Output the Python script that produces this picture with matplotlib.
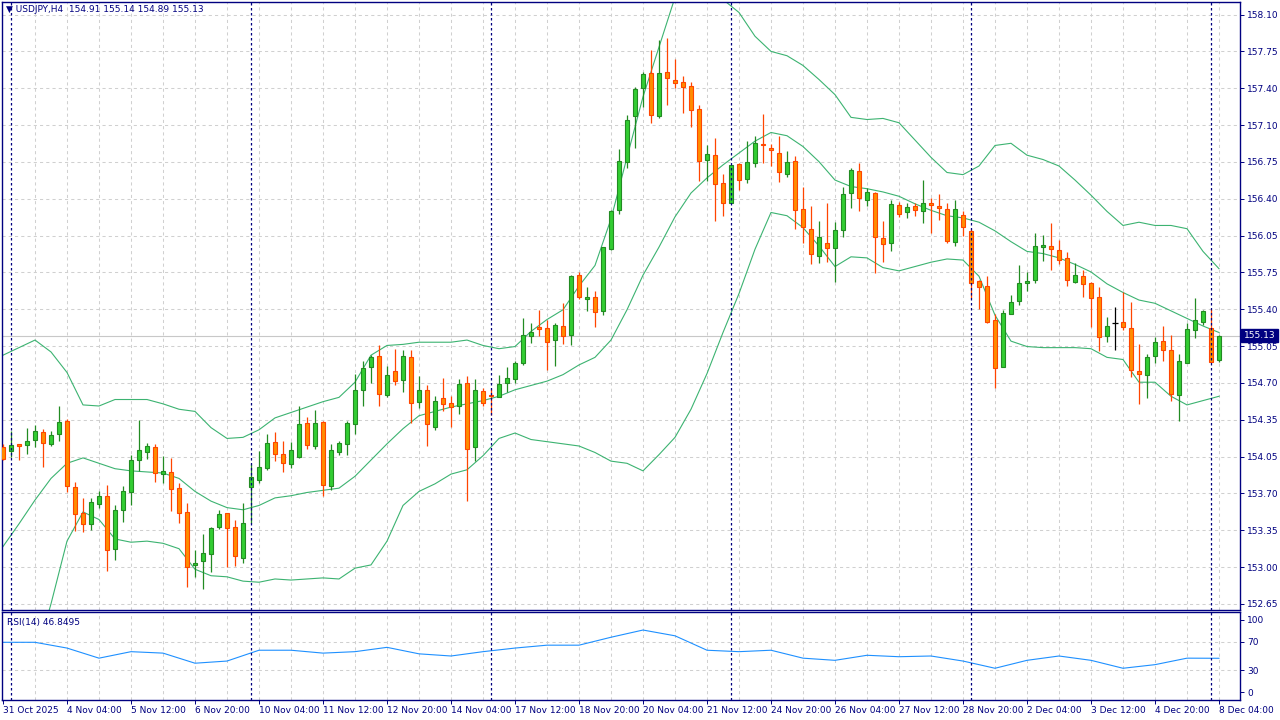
import numpy as np
import matplotlib.pyplot as plt

# USDJPY H4 candles; first bar is 31 Oct 20:00, bar 0 is 3 Nov 00:00
opens = [154.10, 154.06, 154.13, 154.12, 154.17, 154.24, 154.13, 154.22, 154.34, 153.73,
         153.49, 153.39, 153.57, 153.65, 153.16, 153.52, 153.68, 153.98, 154.05, 154.10,
         153.85, 153.87, 153.72, 153.50, 153.01, 153.05, 153.11, 153.36, 153.49, 153.36,
         153.07, 153.73, 153.80, 153.91, 154.15, 154.04, 153.94, 154.01, 154.32, 154.11,
         154.33, 153.74, 154.05, 154.13, 154.31, 154.63, 154.84, 154.94, 154.58, 154.80,
         154.72, 154.93, 154.52, 154.63, 154.29, 154.55, 154.51, 154.48, 154.69, 154.10,
         154.62, 154.58, 154.56, 154.69, 154.73, 154.88, 155.13, 155.21, 155.20, 155.09,
         155.22, 155.14, 155.69, 155.47, 155.49, 155.36, 155.93, 156.29, 156.74, 157.16,
         157.42, 157.56, 157.16, 157.57, 157.50, 157.48, 157.44, 157.23, 156.76, 156.80,
         156.54, 156.36, 156.72, 156.58, 156.73, 156.90, 156.87, 156.82, 156.63, 156.75,
         156.30, 156.12, 155.87, 155.99, 155.94, 156.11, 156.45, 156.65, 156.39, 156.45,
         156.03, 155.99, 156.34, 156.27, 156.33, 156.28, 156.36, 156.33, 156.30, 156.00,
         156.25, 156.10, 155.64, 155.59, 155.28, 154.84, 155.33, 155.45, 155.62, 155.65,
         155.95, 155.96, 155.92, 155.85, 155.63, 155.68, 155.62, 155.49, 155.13, 155.25,
         155.26, 155.20, 154.80, 154.77, 154.94, 155.08, 155.00, 154.58, 154.88, 155.18,
         155.26, 155.20, 154.91]
highs = [154.13, 154.25, 154.13, 154.28, 154.30, 154.27, 154.25, 154.48, 154.36, 153.78,
         153.63, 153.63, 153.69, 153.75, 153.56, 153.74, 154.03, 154.35, 154.14, 154.13,
         154.02, 154.00, 153.77, 153.58, 153.15, 153.30, 153.36, 153.52, 153.49, 153.43,
         153.58, 153.94, 154.06, 154.22, 154.24, 154.16, 154.15, 154.48, 154.38, 154.44,
         154.34, 154.13, 154.16, 154.34, 154.78, 154.90, 154.95, 155.04, 154.85, 155.01,
         155.00, 155.00, 154.76, 154.67, 154.57, 154.74, 154.57, 154.73, 154.76, 154.73,
         154.65, 154.64, 154.77, 154.84, 154.90, 155.29, 155.25, 155.37, 155.28, 155.25,
         155.43, 155.69, 155.72, 155.58, 155.54, 155.95, 156.29, 156.86, 157.17, 157.43,
         157.57, 157.77, 157.87, 157.88, 157.69, 157.53, 157.48, 157.26, 156.89, 156.96,
         156.63, 156.71, 156.73, 156.93, 156.98, 157.18, 156.90, 156.98, 156.84, 156.79,
         156.51, 156.33, 156.19, 156.36, 156.18, 156.51, 156.68, 156.73, 156.50, 156.46,
         156.19, 156.39, 156.37, 156.36, 156.36, 156.57, 156.40, 156.44, 156.36, 156.39,
         156.28, 156.12, 155.65, 155.68, 155.33, 155.37, 155.51, 155.78, 155.72, 156.08,
         156.06, 156.17, 156.02, 155.90, 155.80, 155.74, 155.63, 155.58, 155.30, 155.40,
         155.53, 155.44, 155.05, 154.96, 155.12, 155.22, 155.14, 154.96, 155.25, 155.48,
         155.37, 155.38, 155.14]
lows = [153.98, 154.01, 153.98, 154.04, 154.10, 153.92, 154.11, 154.16, 153.68, 153.32,
        153.31, 153.33, 153.54, 152.95, 153.06, 153.41, 153.56, 153.88, 153.99, 153.78,
        153.77, 153.51, 153.40, 152.81, 152.90, 152.79, 152.94, 153.34, 152.99, 153.00,
        153.03, 153.40, 153.77, 153.89, 153.97, 153.87, 153.91, 154.00, 154.08, 154.08,
        153.65, 153.70, 154.03, 154.03, 154.22, 154.48, 154.69, 154.48, 154.56, 154.67,
        154.61, 154.32, 154.46, 154.11, 154.26, 154.43, 154.29, 154.41, 153.60, 153.97,
        154.48, 154.40, 154.56, 154.61, 154.69, 154.86, 155.06, 155.13, 154.81, 154.85,
        155.05, 155.04, 155.47, 155.36, 155.21, 155.32, 155.92, 156.26, 156.68, 156.87,
        157.25, 157.10, 157.14, 157.26, 157.42, 157.19, 157.06, 156.56, 156.56, 156.19,
        156.24, 156.36, 156.48, 156.54, 156.69, 156.73, 156.70, 156.55, 156.60, 156.12,
        155.99, 155.79, 155.80, 155.81, 155.63, 156.04, 156.31, 156.28, 156.33, 155.71,
        155.81, 155.91, 156.23, 156.22, 156.24, 156.17, 156.08, 156.20, 155.99, 155.96,
        156.05, 155.48, 155.38, 155.25, 154.65, 154.84, 155.33, 155.41, 155.54, 155.62,
        155.82, 155.74, 155.79, 155.59, 155.62, 155.49, 155.21, 154.99, 155.07, 155.00,
        155.18, 154.75, 154.50, 154.55, 154.88, 154.90, 154.53, 154.34, 154.88, 155.11,
        155.23, 154.89, 154.89]
closes = [153.99, 154.12, 154.11, 154.16, 154.25, 154.14, 154.21, 154.33, 153.74, 153.48,
          153.39, 153.59, 153.65, 153.15, 153.52, 153.69, 153.98, 154.07, 154.11, 153.86,
          153.88, 153.71, 153.49, 152.99, 153.03, 153.12, 153.35, 153.48, 153.35, 153.09,
          153.40, 153.82, 153.92, 154.14, 154.04, 153.95, 154.07, 154.31, 154.12, 154.32,
          153.75, 154.07, 154.14, 154.32, 154.63, 154.83, 154.93, 154.59, 154.77, 154.71,
          154.94, 154.51, 154.63, 154.31, 154.53, 154.50, 154.47, 154.68, 154.08, 154.63,
          154.51, 154.57, 154.68, 154.74, 154.88, 155.14, 155.16, 155.19, 155.07, 155.23,
          155.13, 155.68, 155.49, 155.49, 155.35, 155.95, 156.28, 156.75, 157.13, 157.41,
          157.55, 157.17, 157.56, 157.51, 157.47, 157.43, 157.22, 156.75, 156.81, 156.53,
          156.36, 156.71, 156.57, 156.74, 156.91, 156.89, 156.85, 156.64, 156.74, 156.29,
          156.14, 155.89, 156.04, 155.94, 156.11, 156.44, 156.66, 156.40, 156.46, 156.04,
          155.98, 156.35, 156.26, 156.32, 156.29, 156.36, 156.34, 156.31, 156.01, 156.30,
          156.14, 155.62, 155.58, 155.26, 154.83, 155.34, 155.44, 155.62, 155.64, 155.96,
          155.97, 155.93, 155.83, 155.65, 155.69, 155.61, 155.48, 155.12, 155.22, 155.25,
          155.21, 154.81, 154.78, 154.93, 155.07, 155.00, 154.59, 154.90, 155.19, 155.28,
          155.36, 154.89, 155.13]

# Bollinger bands (20, 2), read every 2nd bar starting at bar -1
bb_upper = [154.95, 155.02, 155.09, 154.98, 154.79, 154.49, 154.48, 154.54, 154.54, 154.54,
            154.50, 154.45, 154.43, 154.28, 154.18, 154.19, 154.26, 154.37, 154.42, 154.47,
            154.52, 154.56, 154.70, 154.95, 155.04, 155.05, 155.07, 155.07, 155.07, 155.09,
            155.04, 155.01, 155.03, 155.17, 155.28, 155.37, 155.59, 155.78, 156.21, 156.78,
            157.34, 157.80, 158.26, 158.45, 158.41, 158.24, 158.12, 157.90, 157.76, 157.72,
            157.63, 157.50, 157.36, 157.15, 157.13, 157.14, 157.10, 156.94, 156.78, 156.64,
            156.62, 156.70, 156.89, 156.91, 156.80, 156.76, 156.70, 156.57, 156.43, 156.28,
            156.15, 156.18, 156.15, 156.15, 156.12, 155.91, 155.75]
bb_middle = [153.18, 153.39, 153.61, 153.81, 153.95, 154.00, 153.95, 153.90, 153.88, 153.87,
             153.86, 153.81, 153.69, 153.60, 153.54, 153.52, 153.56, 153.63, 153.65, 153.68,
             153.70, 153.72, 153.83, 153.98, 154.13, 154.27, 154.39, 154.43, 154.47, 154.50,
             154.53, 154.57, 154.63, 154.67, 154.71, 154.77, 154.86, 154.93, 155.09, 155.37,
             155.69, 155.95, 156.23, 156.45, 156.59, 156.71, 156.82, 156.93, 157.01, 156.98,
             156.88, 156.74, 156.57, 156.51, 156.49, 156.46, 156.42, 156.35, 156.29, 156.24,
             156.22, 156.18, 156.10, 156.00, 155.91, 155.89, 155.85, 155.79, 155.72, 155.61,
             155.53, 155.46, 155.43, 155.36, 155.29, 155.22, 155.16]
bb_lower = [151.40, 151.76, 152.13, 152.65, 153.23, 153.50, 153.43, 153.25, 153.22, 153.23,
            153.21, 153.16, 152.97, 152.91, 152.90, 152.86, 152.85, 152.88, 152.87, 152.88,
            152.89, 152.88, 152.98, 153.01, 153.23, 153.56, 153.69, 153.76, 153.85, 153.89,
            154.02, 154.18, 154.23, 154.17, 154.15, 154.13, 154.11, 154.05, 153.97, 153.95,
            153.88, 154.03, 154.19, 154.45, 154.78, 155.16, 155.52, 155.93, 156.27, 156.24,
            156.13, 155.96, 155.77, 155.86, 155.85, 155.76, 155.73, 155.77, 155.81, 155.84,
            155.83, 155.68, 155.32, 155.08, 155.03, 155.02, 155.02, 155.02, 155.01, 154.93,
            154.91, 154.70, 154.70, 154.57, 154.49, 154.53, 154.57]
# RSI(14), read every 4th bar starting at bar -1
rsi_values = [69, 69, 61, 47, 56, 54, 40, 43, 58, 58,
              54, 56, 62, 53, 50, 56, 61, 65, 65, 76,
              86, 78, 58, 56, 58, 47, 44, 51, 49, 50,
              43, 33, 44, 50, 44, 33, 38, 47, 46.85]

price_labels = ["152.65", "153.00", "153.35", "153.70", "154.05", "154.35", "154.70", "155.05", "155.40",
                "155.75", "156.05", "156.40", "156.75", "157.10", "157.40", "157.75", "158.10"]
time_labels = ["31 Oct 2025", "4 Nov 04:00", "5 Nov 12:00", "6 Nov 20:00", "10 Nov 04:00",
               "11 Nov 12:00", "12 Nov 20:00", "14 Nov 04:00", "17 Nov 12:00", "18 Nov 20:00",
               "20 Nov 04:00", "21 Nov 12:00", "24 Nov 20:00", "26 Nov 04:00", "27 Nov 12:00",
               "28 Nov 20:00", "2 Dec 04:00", "3 Dec 12:00", "4 Dec 20:00", "8 Dec 04:00"]
last_price = 155.13

NAVY = "#000080"
GRID = "#d0d0d0"
plt.rcParams["font.family"] = ["DejaVu Sans"]
plt.rcParams["font.size"] = 6.5

o, h, l, c = (np.array(a) for a in (opens, highs, lows, closes))
x = np.arange(-1, len(opens) - 1)
band_x = np.arange(-1, len(opens) - 1, 2)
rsi_x = np.arange(-1, len(opens) - 1, 4)
label_x = np.arange(-1, len(opens) - 1, 8)
separators = [0, 30, 60, 90, 120, 150]

fig = plt.figure(figsize=(12.8, 7.2), dpi=100)
ax = fig.add_axes([2 / 1280, 1 - 610 / 720, 1238 / 1280, 608 / 720])
ax2 = fig.add_axes([2 / 1280, 1 - 700 / 720, 1238 / 1280, 88 / 720])

xlim = (-1.125, 153.625)
ax.set_xlim(*xlim)
ax2.set_xlim(*xlim)
ax.set_ylim(152.593, 158.217)
ax2.set_ylim(-11, 111)

# grid
price_ticks = np.linspace(152.65, 158.10, len(price_labels))
for gx in np.arange(3, len(opens) - 1, 4):
    ax.axvline(gx, color=GRID, lw=0.75, ls=(0, (3, 3)), zorder=0)
    ax2.axvline(gx, color=GRID, lw=0.75, ls=(0, (3, 3)), zorder=0)
for gy in price_ticks:
    ax.axhline(gy, color=GRID, lw=0.75, ls=(0, (3, 3)), zorder=0)
for gy in (70, 30):
    ax2.axhline(gy, color=GRID, lw=0.75, ls=(0, (3, 3)), zorder=0)

ax.axhline(last_price, color="#c8c8c8", lw=0.8, zorder=1)

# bollinger bands
for band in (bb_upper, bb_middle, bb_lower):
    ax.plot(band_x, band, color="#3cb371", lw=0.8, zorder=2)

# candles
up = c > o
dn = c < o
flat = c == o
body_bot = np.minimum(o, c)
body_h = np.maximum(np.abs(c - o), 0.01)
ax.vlines(x[up], l[up], h[up], color="#228b22", lw=0.9, zorder=3)
ax.vlines(x[dn], l[dn], h[dn], color="#ff4500", lw=0.9, zorder=3)
ax.vlines(x[flat], l[flat], h[flat], color="black", lw=0.9, zorder=3)
ax.bar(x[up], body_h[up], bottom=body_bot[up], width=0.55, color="#32cd32",
       edgecolor="#228b22", linewidth=0.8, zorder=4)
ax.bar(x[dn], body_h[dn], bottom=body_bot[dn], width=0.55, color="#ff8c00",
       edgecolor="#ff4500", linewidth=0.8, zorder=4)
ax.hlines(o[flat], x[flat] - 0.35, x[flat] + 0.35, color="black", lw=0.9, zorder=4)

# rsi
ax2.plot(rsi_x, rsi_values, color="#1e90ff", lw=0.8)

# period separators
for sx in separators:
    ax.axvline(sx, color=NAVY, lw=0.9, ls=(0, (2, 2)), zorder=5)
    ax2.axvline(sx, color=NAVY, lw=0.9, ls=(0, (2, 2)), zorder=5)

# axes styling
for a in (ax, ax2):
    for sp in a.spines.values():
        sp.set_color(NAVY)
        sp.set_linewidth(1)
    a.yaxis.tick_right()
    a.tick_params(axis="y", direction="out", length=3, width=0.7, color=NAVY,
                  labelcolor=NAVY, labelsize=6.5, pad=2)

ax.set_yticks(price_ticks)
ax.set_yticklabels(price_labels)
ax.set_xticks([])
ax2.set_yticks([100, 70, 30, 0])
ax2.set_xticks(label_x)
ax2.set_xticklabels(time_labels, ha="left")
ax2.tick_params(axis="x", direction="out", length=3, width=0.7, color=NAVY,
                labelcolor=NAVY, labelsize=6.5, pad=1)

# last price tag
ax.text(1.003, last_price, f"{last_price:.2f}", transform=ax.get_yaxis_transform(),
        ha="left", va="center", color="white", fontsize=6.5, zorder=10, clip_on=False,
        bbox=dict(boxstyle="square,pad=0.25", fc=NAVY, ec=NAVY))

ax.text(0.003, 0.987, "\u25bc USDJPY,H4  154.91 155.14 154.89 155.13", transform=ax.transAxes,
        ha="left", va="center", color=NAVY, fontsize=6.5)
ax2.text(0.004, 0.88, "RSI(14) 46.8495", transform=ax2.transAxes,
         ha="left", va="center", color=NAVY, fontsize=6.5)

fig.savefig("out.png", dpi=100)
